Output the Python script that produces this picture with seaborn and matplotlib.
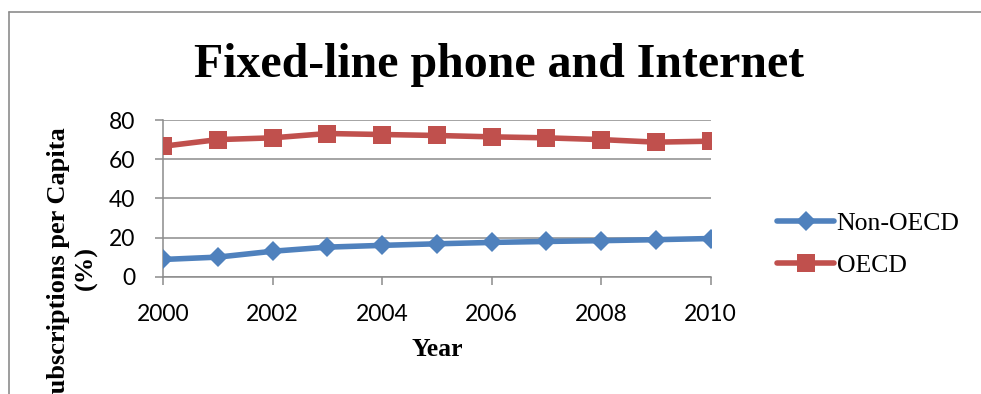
import matplotlib
matplotlib.use("Agg")
import matplotlib.pyplot as plt
import seaborn as sns
import pandas as pd
from matplotlib.lines import Line2D

# values
years = [2000, 2001, 2002, 2003, 2004, 2005, 2006, 2007, 2008, 2009, 2010]
non_oecd = [8.8, 10.0, 13.0, 15.1, 16.0, 16.8, 17.5, 18.0, 18.4, 18.9, 19.5]
oecd = [66.6, 70.0, 70.9, 73.1, 72.6, 72.1, 71.4, 70.9, 70.0, 68.7, 69.2]
series_names = ["Non-OECD", "OECD"]
x_ticks = [2000, 2002, 2004, 2006, 2008, 2010]
y_ticks = [0, 20, 40, 60, 80]

blue = "#4F81BD"
red = "#C0504D"
grid_gray = "#8C8C8C"

df = pd.DataFrame({
    "Year": years * 2,
    "Value": non_oecd + oecd,
    "Series": [series_names[0]] * len(years) + [series_names[1]] * len(years),
})

sns.set_style("white")
plt.rcParams["text.color"] = "black"
plt.rcParams["xtick.labelcolor"] = "black"
plt.rcParams["ytick.labelcolor"] = "black"
serif = ["Liberation Serif", "DejaVu Serif"]
sans = ["Lato", "DejaVu Sans"]

fig = plt.figure(figsize=(9.81, 3.94), dpi=100)
ax = fig.add_axes([0.1662, 0.2977, 0.5583, 0.3977])

sns.lineplot(data=df[df["Series"] == "Non-OECD"], x="Year", y="Value",
             color=blue, marker="D", markersize=10, markeredgewidth=0,
             linewidth=4, ax=ax, zorder=3)
sns.lineplot(data=df[df["Series"] == "OECD"], x="Year", y="Value",
             color=red, marker="s", markersize=13.5, markeredgewidth=0,
             linewidth=4, ax=ax, zorder=3)

ax.set_xlim(2000, 2010)
ax.set_ylim(0, 80)
ax.set_xticks(x_ticks)
ax.set_yticks(y_ticks)
ax.yaxis.grid(True, color=grid_gray, linewidth=1.1)
ax.xaxis.grid(False)
for side in ["top", "right"]:
    ax.spines[side].set_visible(False)
for side in ["left", "bottom"]:
    ax.spines[side].set_color(grid_gray)
    ax.spines[side].set_linewidth(1.1)
ax.tick_params(axis="both", direction="out", length=6, width=1.1,
               color=grid_gray, labelsize=16.5, labelcolor="black",
               left=True, bottom=True)
ax.tick_params(axis="x", pad=14)
ax.tick_params(axis="y", pad=14)
for lbl in ax.get_xticklabels() + ax.get_yticklabels():
    lbl.set_family(sans)
ax.set_xlabel("")
ax.set_ylabel("")

fig.text(0.4455, 0.112, "Year", ha="center", va="center", color="black",
         fontsize=18.5, fontweight="bold", family=serif)
fig.text(0.074, 0.32, "Subscriptions per Capita\n(%)", rotation=90,
         ha="center", va="center", multialignment="center", linespacing=1.25,
         color="black", fontsize=19, fontweight="bold", family=serif)
fig.text(0.509, 0.836, "Fixed-line phone and Internet", ha="center",
         va="center", color="black", fontsize=34.5, fontweight="bold",
         family=serif)

handles = [
    Line2D([], [], color=blue, marker="D", markersize=10, markeredgewidth=0, linewidth=4),
    Line2D([], [], color=red, marker="s", markersize=13.5, markeredgewidth=0, linewidth=4),
]
leg = fig.legend(handles, series_names, loc="center left", bbox_to_anchor=(0.782, 0.38),
                 frameon=False, handlelength=2.2, handletextpad=0.1, labelspacing=0.75,
                 prop={"family": serif, "size": 18.5}, borderaxespad=0)
for t in leg.get_texts():
    t.set_color("black")

# chart-area border, clipped by the image edge
fig.add_artist(Line2D([0.009, 1.0], [0.969, 0.969], transform=fig.transFigure,
                      color=grid_gray, linewidth=1.2))
fig.add_artist(Line2D([0.009, 0.009], [0.0, 0.969], transform=fig.transFigure,
                      color=grid_gray, linewidth=1.2))

fig.savefig("out.png", dpi=100)
plt.close(fig)
